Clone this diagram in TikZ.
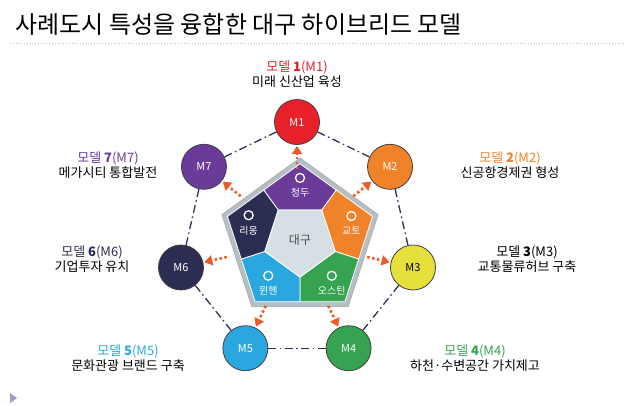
\documentclass[tikz,border=0pt]{standalone}
\usepackage{fontspec}
\setmainfont{Noto Sans CJK KR}
\usetikzlibrary{positioning,calc,arrows.meta}

\definecolor{mred}{HTML}{E8202A}
\definecolor{morange}{HTML}{F0832A}
\definecolor{myellow}{HTML}{E6E03C}
\definecolor{mgreen}{HTML}{35A350}
\definecolor{mblue}{HTML}{2AA7DF}
\definecolor{mnavy}{HTML}{2C2D52}
\definecolor{mpurple}{HTML}{6A3B98}
\definecolor{linkcol}{HTML}{2C2F5A}
\definecolor{arrowcol}{HTML}{EE5A2A}
\definecolor{frame}{HTML}{B5C0C6}
\definecolor{core}{HTML}{D6DFE3}

\tikzset{
  model/.style = {circle, draw=black!75, thick, minimum size=45pt, inner sep=0pt, font=\fontsize{11}{11}\selectfont, text=white},
  link/.style = {linkcol, line width=1.3pt, dash pattern=on 8pt off 3.5pt on 1.5pt off 3.5pt},
  feed/.style = {arrowcol, line width=2.6pt, dash pattern=on 2.5pt off 2.5pt, -{Triangle[length=8pt,width=10pt]}},
  mlabel/.style = {font=\fontsize{13}{15}\selectfont, align=center},
  piece/.style = {draw=white, line width=0.8pt}
}

\begin{document}
\begin{tikzpicture}[x=1pt, y=-1pt]
  \useasboundingbox (0,0) rectangle (640,405);

  % title
  \node[anchor=west, font=\fontsize{24}{24}\selectfont] (title) at (12,24) {사례도시 특성을 융합한 대구 하이브리드 모델};
  \draw[cyan!40!gray!60, dotted, thick] (10,43) -- (625,43);
  \fill[blue!30!gray!60] (10,393) -- (17,398) -- (10,403) -- cycle;

  % model circles (y axis points down, so angles turn clockwise)
  \coordinate (c) at (297,241);
  \node[model, fill=mred] (m1) at ($(c)+(-90:119)$) {M1};
  \node[model, fill=morange] (m2) at ($(c)+(-38.57:119)$) {M2};
  \node[model, fill=myellow, text=black] (m3) at ($(c)+(12.86:119)$) {M3};
  \node[model, fill=mgreen] (m4) at ($(c)+(64.29:119)$) {M4};
  \node[model, fill=mblue] (m5) at ($(c)+(115.71:119)$) {M5};
  \node[model, fill=mnavy] (m6) at ($(c)+(167.14:119)$) {M6};
  \node[model, fill=mpurple] (m7) at ($(c)+(218.57:119)$) {M7};

  \foreach \a/\b in {m1/m2,m2/m3,m3/m4,m4/m5,m5/m6,m6/m7,m7/m1}
    \draw[link] (\a) -- (\b);

  % pentagon
  \coordinate (p) at (300,240);
  \foreach \i in {0,...,4} {
    \coordinate (v\i) at ($(p)+(-90+72*\i:82)$);
    \coordinate (w\i) at ($(p)+(-54+72*\i:37)$);
  }
  \fill[frame] (v0) -- (v1) -- (v2) -- (v3) -- (v4) -- cycle;
  \draw[gray!60, line width=1pt] (v0) -- (v1) -- (v2) -- (v3) -- (v4) -- cycle;
  \coordinate (u0) at ($(p)!0.93!(v0)$);
  \coordinate (u1) at ($(p)!0.93!(v1)$);
  \coordinate (u2) at ($(p)!0.93!(v2)$);
  \coordinate (u3) at ($(p)!0.93!(v3)$);
  \coordinate (u4) at ($(p)!0.93!(v4)$);
  \coordinate (f0) at ($(u0)!0.5!(u1)$);
  \coordinate (f1) at ($(u1)!0.5!(u2)$);
  \coordinate (f2) at ($(u2)!0.5!(u3)$);
  \coordinate (f3) at ($(u3)!0.5!(u4)$);
  \coordinate (f4) at ($(u4)!0.5!(u0)$);
  \fill[mpurple, piece] (f4) -- (u0) -- (f0) -- (w0) -- (w4) -- cycle;
  \fill[morange, piece] (f0) -- (u1) -- (f1) -- (w1) -- (w0) -- cycle;
  \fill[mgreen, piece] (f1) -- (u2) -- (f2) -- (w2) -- (w1) -- cycle;
  \fill[mblue, piece] (f2) -- (u3) -- (f3) -- (w3) -- (w2) -- cycle;
  \fill[mnavy, piece] (f3) -- (u4) -- (f4) -- (w4) -- (w3) -- cycle;
  \fill[core, piece] (w0) -- (w1) -- (w2) -- (w3) -- (w4) -- cycle;

  \node[font=\fontsize{12}{12}\selectfont, text=black!70] (daegu) at (p) {대구};
  \foreach \k/\ang/\txt in {0/-90/청두, 1/-18/교토, 2/54/오스틴, 3/126/뮌헨, 4/198/리옹} {
    \node[font=\fontsize{10}{10}\selectfont, text=white] (city\k) at ($(p)+(\ang:54)+(0,7)$) {\txt};
    \draw[white, line width=1.3pt] ($(city\k.north)+(0,-7)$) circle (4.5pt);
  }

  % arrows from pentagon to models
  \foreach \m/\ang in {m1/-90, m2/-38.57, m3/12.86, m4/64.29, m5/115.71, m6/167.14, m7/218.57}
    \draw[feed] ($(c)+(\ang:72)$) -- ($(c)+(\ang:95)$);

  % labels
  \node[mlabel] (l1) at (297,74) {\textcolor{mred}{모델 \textbf{1}(M1)}\\미래 신산업 육성};
  \node[mlabel] (l2) at (510,165) {\textcolor{morange}{모델 \textbf{2}(M2)}\\신공항경제권 형성};
  \node[mlabel] (l3) at (527,259) {\textcolor{black}{모델 \textbf{3}(M3)}\\교통물류허브 구축};
  \node[mlabel] (l4) at (475,358) {\textcolor{mgreen}{모델 \textbf{4}(M4)}\\하천·수변공간 가치제고};
  \node[mlabel] (l5) at (128,358) {\textcolor{mblue}{모델 \textbf{5}(M5)}\\문화관광 브랜드 구축};
  \node[mlabel] (l6) at (92,259) {\textcolor{mnavy}{모델 \textbf{6}(M6)}\\기업투자 유치};
  \node[mlabel] (l7) at (108,165) {\textcolor{mpurple}{모델 \textbf{7}(M7)}\\메가시티 통합발전};
\end{tikzpicture}
\end{document}
